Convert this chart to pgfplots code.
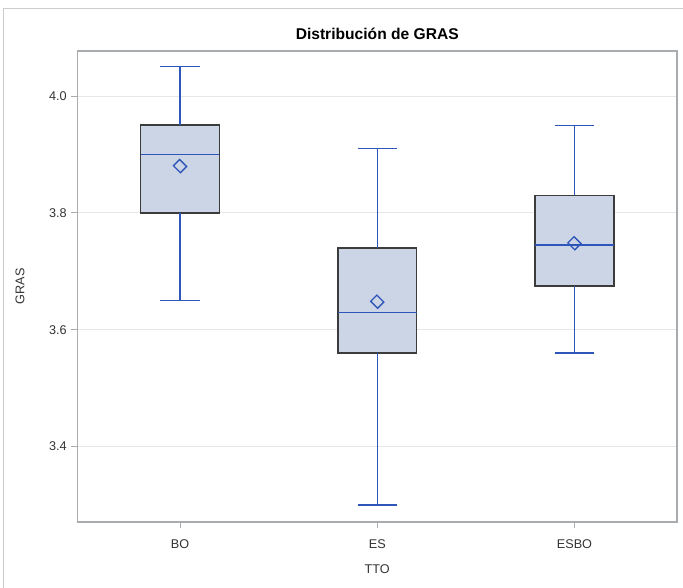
\documentclass[border=0pt]{standalone}
\usepackage{pgfplots}
\pgfplotsset{compat=1.18}
\usepackage{fontspec}
\setmainfont{Liberation Sans}
\definecolor{boxfill}{HTML}{CBD5E6}
\definecolor{boxedge}{HTML}{3C3C3C}
\definecolor{sasblue}{HTML}{2E56B8}
\definecolor{framegrey}{HTML}{A8ACAF}
\definecolor{gridgrey}{HTML}{E6E6E6}
\definecolor{bordergrey}{HTML}{CCCCCC}
\definecolor{txt}{HTML}{333333}

\begin{document}
\begin{tikzpicture}
\begin{axis}[
  scale only axis, width=449.625pt, height=353.25pt,
  xmin=0.48, xmax=3.52, ymin=3.271, ymax=4.077,
  xtick={1,2,3}, xticklabels={BO,ES,ESBO},
  ytick={3.4,3.6,3.8,4.0},
  yticklabel style={/pgf/number format/.cd, fixed, fixed zerofill, precision=1},
  /pgf/number format/assume math mode=true,
  xticklabel style={yshift=-5.25pt},
  tick align=outside, major tick length=4.5pt,
  tick style={framegrey, line width=0.6pt},
  xtick pos=left, ytick pos=left,
  axis line style={framegrey, line width=0.8pt},
  ymajorgrids, grid style={gridgrey, line width=0.6pt},
  tick label style={font=\fontsize{9.5}{11}\selectfont, text=txt},
  label style={font=\fontsize{9.5}{11}\selectfont, text=txt},
  xlabel=TTO, ylabel=GRAS,
  title={Distribución de GRAS},
  title style={font=\bfseries\fontsize{11.7}{14}\selectfont, at={(axis description cs:0.5,1.019)}, anchor=center},
  xlabel style={at={(axis description cs:0.5,-0.1)}, anchor=center},
  ylabel style={at={(axis description cs:-0.0959,0.5)}, anchor=center},
  unbounded coords=jump,
]
% boxes: lower quartile .. upper quartile
\addplot[fill=boxfill, draw=boxedge, line width=1.1pt] coordinates {(0.8,3.80) (1.2,3.80) (1.2,3.95) (0.8,3.95)} -- cycle;
\addplot[fill=boxfill, draw=boxedge, line width=1.1pt] coordinates {(1.8,3.56) (2.2,3.56) (2.2,3.74) (1.8,3.74)} -- cycle;
\addplot[fill=boxfill, draw=boxedge, line width=1.1pt] coordinates {(2.8,3.675) (3.2,3.675) (3.2,3.83) (2.8,3.83)} -- cycle;
% medians
\addplot[draw=sasblue, line width=1pt] coordinates {(0.8,3.90) (1.2,3.90) (nan,nan) (1.8,3.63) (2.2,3.63) (nan,nan) (2.8,3.745) (3.2,3.745)};
% whiskers and caps
\addplot[draw=sasblue, line width=1pt] coordinates {
  (1,3.95) (1,4.05) (nan,nan) (0.9,4.05) (1.1,4.05) (nan,nan) (1,3.80) (1,3.65) (nan,nan) (0.9,3.65) (1.1,3.65) (nan,nan)
  (2,3.74) (2,3.91) (nan,nan) (1.9,3.91) (2.1,3.91) (nan,nan) (2,3.56) (2,3.30) (nan,nan) (1.9,3.30) (2.1,3.30) (nan,nan)
  (3,3.83) (3,3.95) (nan,nan) (2.9,3.95) (3.1,3.95) (nan,nan) (3,3.675) (3,3.56) (nan,nan) (2.9,3.56) (3.1,3.56)};
% means
\addplot[only marks, mark=square, mark size=3.3pt, mark options={rotate=45, yscale=1.12, fill=none}, draw=sasblue, line width=1pt] coordinates {(1,3.88) (2,3.648) (3,3.748)};
\end{axis}
\draw[bordergrey, line width=0.75pt] (-55.125pt,-60pt) -- (-55.125pt,384.75pt) -- (470pt,384.75pt);
\pgfresetboundingbox
\path[use as bounding box] (-58.125pt,-49.5pt) rectangle (454.125pt,391.5pt);
\end{tikzpicture}
\end{document}
